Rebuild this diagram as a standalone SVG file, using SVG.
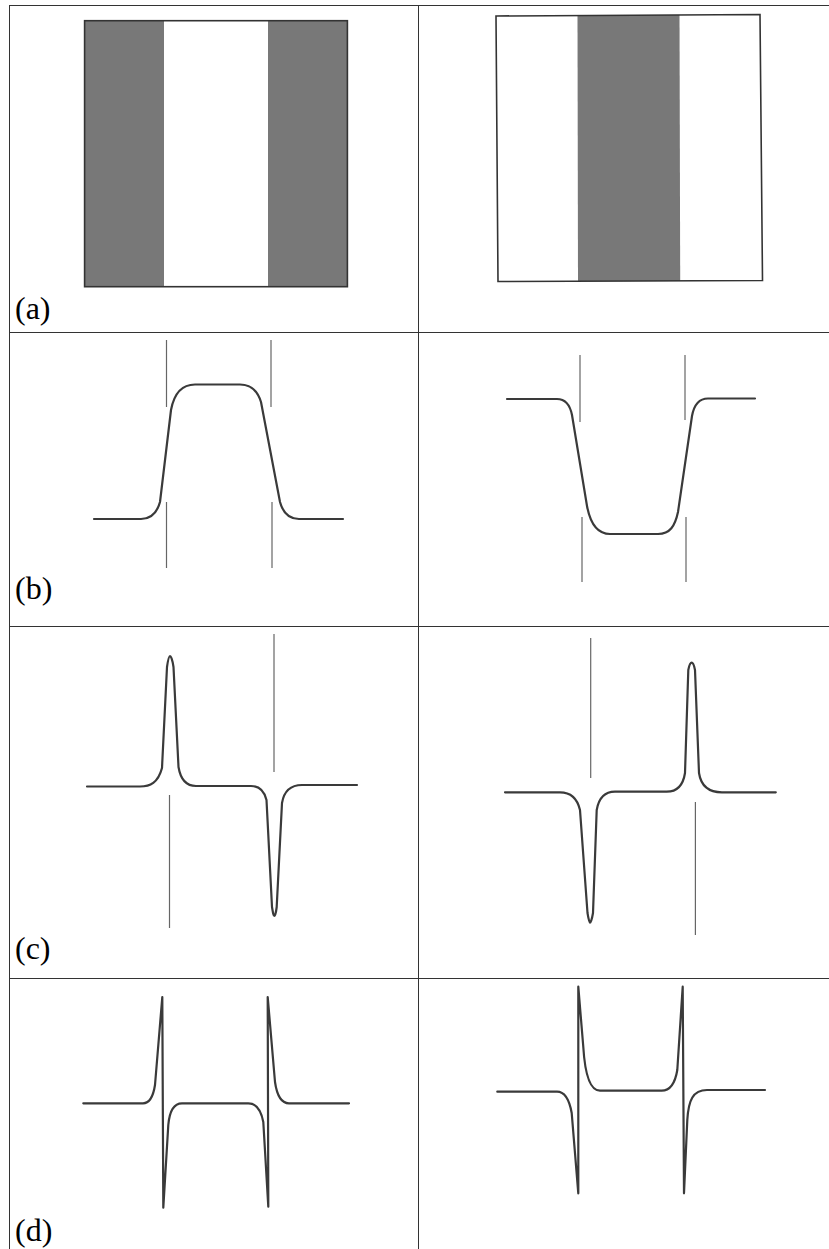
<svg xmlns="http://www.w3.org/2000/svg" width="829" height="1249" viewBox="0 0 829 1249">
<style>
.grid{stroke:#333;stroke-width:1;fill:none}
.curve{stroke:#3a3a3a;stroke-width:2.2;fill:none;stroke-linejoin:round;stroke-linecap:round}
.mark{stroke:#666;stroke-width:1.2;fill:none}
.gray{fill:#787878}
.frame{fill:none;stroke:#333;stroke-width:1.6}
</style>
<rect x="0" y="0" width="829" height="1249" fill="#fff"/>
<g id="table-grid">
<line class="grid" x1="9.5" y1="5" x2="9.5" y2="1249"/>
<line class="grid" x1="418.5" y1="5" x2="418.5" y2="1249"/>
<line class="grid" x1="9" y1="5.5" x2="829" y2="5.5"/>
<line class="grid" x1="9" y1="332.5" x2="829" y2="332.5"/>
<line class="grid" x1="9" y1="626.5" x2="829" y2="626.5"/>
<line class="grid" x1="9" y1="978.5" x2="829" y2="978.5"/>
</g>
<g id="cell-a-left">
<rect x="84.6" y="20.7" width="79.4" height="266" class="gray"/>
<rect x="268" y="20.7" width="79.4" height="266" class="gray"/>
<rect x="84.6" y="20.7" width="262.8" height="266" class="frame"/>
</g>
<g id="cell-a-right">
<polygon points="577.5,15.4 679.5,14.9 680.2,281 578,281.3" class="gray"/>
<polygon points="496,16 760,14.5 762.5,280.5 498,281.5" class="frame"/>
</g>
<g id="cell-b-left">
<path class="curve" d="M94,519 H141 C151,519 157,513 160,502 L171,410 C174,394 181,384.5 195,384.5 H240 C252,384.5 258,392 261,402 L280,502 C283,513 289,519 299,519 H343"/>
<line class="mark" x1="166.5" y1="340" x2="166.5" y2="407"/>
<line class="mark" x1="166.5" y1="502" x2="166.5" y2="568"/>
<line class="mark" x1="271" y1="340" x2="271" y2="407"/>
<line class="mark" x1="272" y1="502" x2="272" y2="568"/>
</g>
<g id="cell-b-right">
<path class="curve" d="M507,399 H557 C566,399 570,405 572,415 L587,506 C590,522 597,534 610,534 H658 C670,534 675,526 678,512 L692,416 C694,405 699,398.5 708,398.5 H755"/>
<line class="mark" x1="580" y1="355" x2="580" y2="422"/>
<line class="mark" x1="582" y1="517" x2="582" y2="582"/>
<line class="mark" x1="685" y1="355" x2="685" y2="420"/>
<line class="mark" x1="686" y1="517" x2="686" y2="582"/>
</g>
<g id="cell-c-left">
<path class="curve" d="M87,786.5 H140 C150,786.5 158,783 162,768 L167,667 C168,660 169,656 170,656 C171,656 172.5,660 173.5,667 L178.5,767 C181,782 188,786 196,786 H251 C258,786 264,790 266.5,800 L272,907 C273,913 273.5,916 274.3,916 C275,916 276,913 276.7,907 L282,803 C284,791 290,785 302,785 H357"/>
<line class="mark" x1="169.5" y1="795" x2="169.5" y2="928"/>
<line class="mark" x1="274" y1="634" x2="274" y2="772"/>
</g>
<g id="cell-c-right">
<path class="curve" d="M505,792.3 H560 C570,792.3 577,797 580,810 L587.5,913 C588.5,919 589.3,922.7 590,922.7 C590.7,922.7 592,919 593,913 L596.7,810 C599,797 606,791.7 615,791.7 H666.7 C676,791.7 683,786 685,773 L688.3,670 C689.3,665 690.7,662.7 691.7,662.7 C692.7,662.7 694,665 695,670 L699,773 C701,786 709,792.3 722,792.3 H775.8"/>
<line class="mark" x1="590.7" y1="638" x2="590.7" y2="778"/>
<line class="mark" x1="695.4" y1="802" x2="695.4" y2="935"/>
</g>
<g id="cell-d-left">
<path class="curve" d="M83.3,1103.3 H143 C149,1103.3 153,1098 155,1085 L162.3,997 L163.3,1207.7 L168.3,1125 C169.5,1111 174,1103.3 182,1103.3 H248.3 C256,1103.3 261,1110 263.3,1122 L268.3,1206.7 L267.7,997 L275,1082 C277,1096 282,1103.3 289,1103.3 H349"/>
</g>
<g id="cell-d-right">
<path class="curve" d="M497.3,1091.7 H557 C564,1091.7 569,1098 571.7,1113 L578.3,1193.3 L578.3,986.7 L583.3,1047 C585,1075 590,1090.7 600,1090.7 H661.7 C669,1090.7 675,1084 677.3,1070 L682.7,986.7 L684,1193.3 L687.3,1120 C688.5,1100 693,1090 707,1090 H765"/>
</g>
<g id="labels" font-family="Liberation Serif, DejaVu Serif, serif" font-size="32" fill="#000">
<text x="15" y="319">(a)</text>
<text x="15" y="599">(b)</text>
<text x="15" y="959">(c)</text>
<text x="15" y="1241">(d)</text>
</g>
</svg>
